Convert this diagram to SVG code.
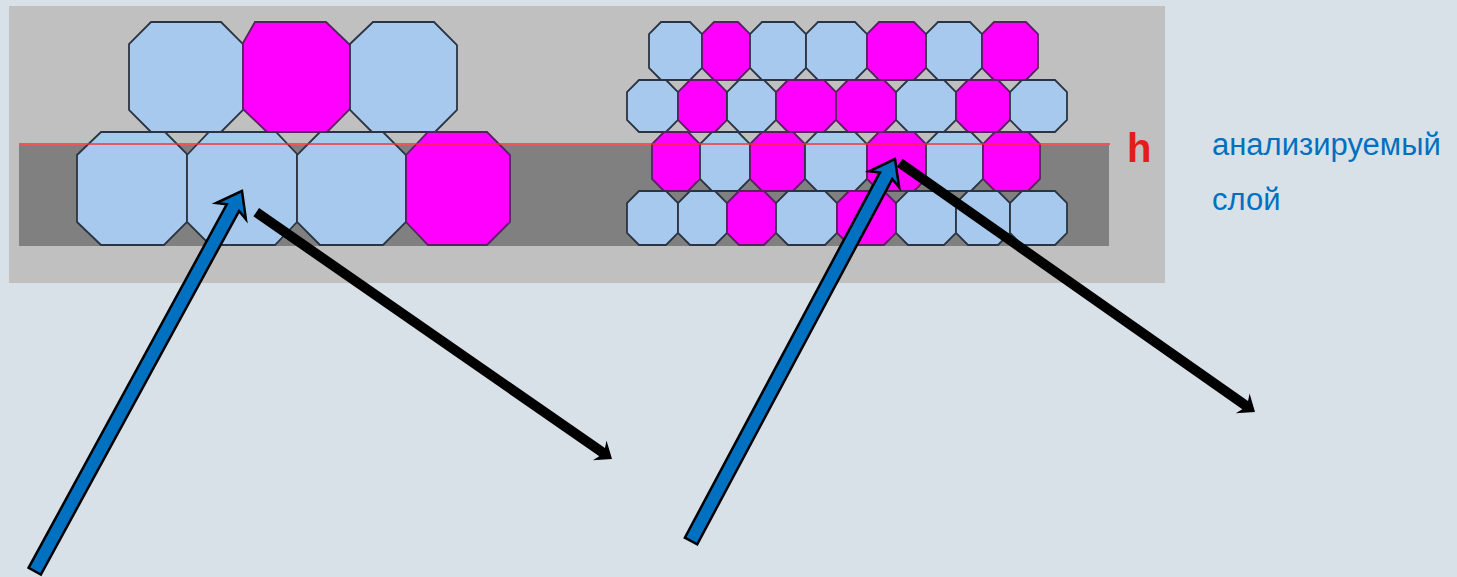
<svg xmlns="http://www.w3.org/2000/svg" width="1457" height="577" viewBox="0 0 1457 577">
  <style>
    .panel { fill: #c0c0c0; }
    .band { fill: #808080; }
    .b { fill: #a7c9ee; stroke: #2b3442; stroke-width: 1.8; stroke-linejoin: miter; }
    .m { fill: #ff00ff; stroke: #5a2060; stroke-width: 1.8; stroke-linejoin: miter; }
    .level { stroke: #ff2a2a; stroke-width: 2; opacity: 0.7; }
    .lbl { font-family: "Liberation Sans", Arial, sans-serif; font-size: 31px; fill: #0070c0; }
    .h { font-family: "Liberation Sans", Arial, sans-serif; font-size: 40px; font-weight: bold; fill: #e31c1c; }
    .up { fill: #0070c0; stroke: #000; stroke-width: 2.5; stroke-linejoin: miter; }
    .down { fill: #000; }
  </style>

  <!-- page background -->
  <rect x="0" y="0" width="1457" height="577" fill="#d9e1e8"/>

  <!-- grey panel with the dark analysed band -->
  <g id="panel">
    <rect class="panel" x="9" y="6" width="1156" height="277"/>
    <rect class="band" x="19" y="145" width="1090" height="101"/>
  </g>

  <!-- coarse packing: two rows of large octagons -->
  <g id="coarse-packing">
    <polygon class="b" points="151,22 221,22 243,44 243,110 221,132 151,132 129,110 129,44"/>
    <polygon class="m" points="255,22 326,22 350,45 350,109 327,132 267,132 243,109 243,43"/>
    <polygon class="b" points="373,22 434,22 457,45 457,110 435,132 372,132 350,110 350,44"/>
    <polygon class="b" points="101,132 165,132 187,154 187,222 164,245 101,245 77,222 77,155"/>
    <polygon class="b" points="209,132 276,132 297,154 297,222 275,245 210,245 187,222 187,155"/>
    <polygon class="b" points="320,132 383,132 406,155 406,222 383,245 320,245 297,222 297,155"/>
    <polygon class="m" points="428,132 487,132 510,155 510,222 487,245 428,245 406,222 406,155"/>
  </g>

  <!-- fine packing: four rows of small octagons -->
  <g id="fine-packing">
    <g id="fine-row-1">
      <polygon class="b" points="661,22 690,22 702,34 702,68 690,80 661,80 649,68 649,34"/>
      <polygon class="m" points="714,22 738,22 750,34 750,68 738,80 714,80 702,68 702,34"/>
      <polygon class="b" points="762,22 794,22 806,34 806,68 794,80 762,80 750,68 750,34"/>
      <polygon class="b" points="818,22 855,22 867,34 867,68 855,80 818,80 806,68 806,34"/>
      <polygon class="m" points="879,22 914,22 926,34 926,68 914,80 879,80 867,68 867,34"/>
      <polygon class="b" points="938,22 970,22 982,34 982,68 970,80 938,80 926,68 926,34"/>
      <polygon class="m" points="994,22 1026,22 1038,34 1038,68 1026,80 994,80 982,68 982,34"/>
    </g>
    <g id="fine-row-2">
      <polygon class="b" points="639,80 666,80 678,92 678,120 666,132 639,132 627,120 627,92"/>
      <polygon class="m" points="690,80 715,80 727,92 727,120 715,132 690,132 678,120 678,92"/>
      <polygon class="b" points="739,80 764,80 776,92 776,120 764,132 739,132 727,120 727,92"/>
      <polygon class="m" points="788,80 824,80 836,92 836,120 824,132 788,132 776,120 776,92"/>
      <polygon class="m" points="848,80 884,80 896,92 896,120 884,132 848,132 836,120 836,92"/>
      <polygon class="b" points="908,80 944,80 956,92 956,120 944,132 908,132 896,120 896,92"/>
      <polygon class="m" points="968,80 998,80 1010,92 1010,120 998,132 968,132 956,120 956,92"/>
      <polygon class="b" points="1022,80 1055,80 1067,92 1067,120 1055,132 1022,132 1010,120 1010,92"/>
    </g>
    <g id="fine-row-3">
      <polygon class="m" points="664,132 688,132 700,144 700,179 688,191 664,191 652,179 652,144"/>
      <polygon class="b" points="712,132 738,132 750,144 750,179 738,191 712,191 700,179 700,144"/>
      <polygon class="m" points="762,132 793,132 805,144 805,179 793,191 762,191 750,179 750,144"/>
      <polygon class="b" points="817,132 855,132 867,144 867,179 855,191 817,191 805,179 805,144"/>
      <polygon class="m" points="879,132 914,132 926,144 926,179 914,191 879,191 867,179 867,144"/>
      <polygon class="b" points="938,132 971,132 983,144 983,179 971,191 938,191 926,179 926,144"/>
      <polygon class="m" points="995,132 1028,132 1040,144 1040,179 1028,191 995,191 983,179 983,144"/>
    </g>
    <g id="fine-row-4">
      <polygon class="b" points="639,191 666,191 678,203 678,233 666,245 639,245 627,233 627,203"/>
      <polygon class="b" points="690,191 715,191 727,203 727,233 715,245 690,245 678,233 678,203"/>
      <polygon class="m" points="739,191 764,191 776,203 776,233 764,245 739,245 727,233 727,203"/>
      <polygon class="b" points="788,191 825,191 837,203 837,233 825,245 788,245 776,233 776,203"/>
      <polygon class="m" points="849,191 884,191 896,203 896,233 884,245 849,245 837,233 837,203"/>
      <polygon class="b" points="908,191 944,191 956,203 956,233 944,245 908,245 896,233 896,203"/>
      <polygon class="b" points="968,191 998,191 1010,203 1010,233 998,245 968,245 956,233 956,203"/>
      <polygon class="b" points="1022,191 1055,191 1067,203 1067,233 1055,245 1022,245 1010,233 1010,203"/>
    </g>
  </g>

  <!-- surface level h -->
  <g id="level-h">
    <line class="level" x1="19" y1="144" x2="1110" y2="144"/>
    <text class="h" x="1127" y="162">h</text>
  </g>

  <!-- caption -->
  <g id="caption">
    <text class="lbl" x="1212" y="155">анализируемый</text>
    <text class="lbl" x="1212" y="210">слой</text>
  </g>

  <!-- incoming (blue) and outgoing (black) rays -->
  <g id="connectors">
    <path class="down" transform="translate(612,459) rotate(34.75)" d="M0,0 L-15,-12 L-12,-5 L-433,-5 L-433,5 L-12,5 L-15,12 Z"/>
    <path class="down" transform="translate(1255,412) rotate(35.05)" d="M0,0 L-15,-12 L-12,-5 L-434,-5 L-434,5 L-12,5 L-15,12 Z"/>
    <path class="up" transform="translate(242,191) rotate(-61.4)" d="M0,0 L-23,-17 L-19,-7 L-433,-7 L-433,7 L-19,7 L-23,17 Z"/>
    <path class="up" transform="translate(895,159) rotate(-61.9)" d="M0,0 L-23,-17 L-19,-7 L-433,-7 L-433,7 L-19,7 L-23,17 Z"/>
  </g>
</svg>
